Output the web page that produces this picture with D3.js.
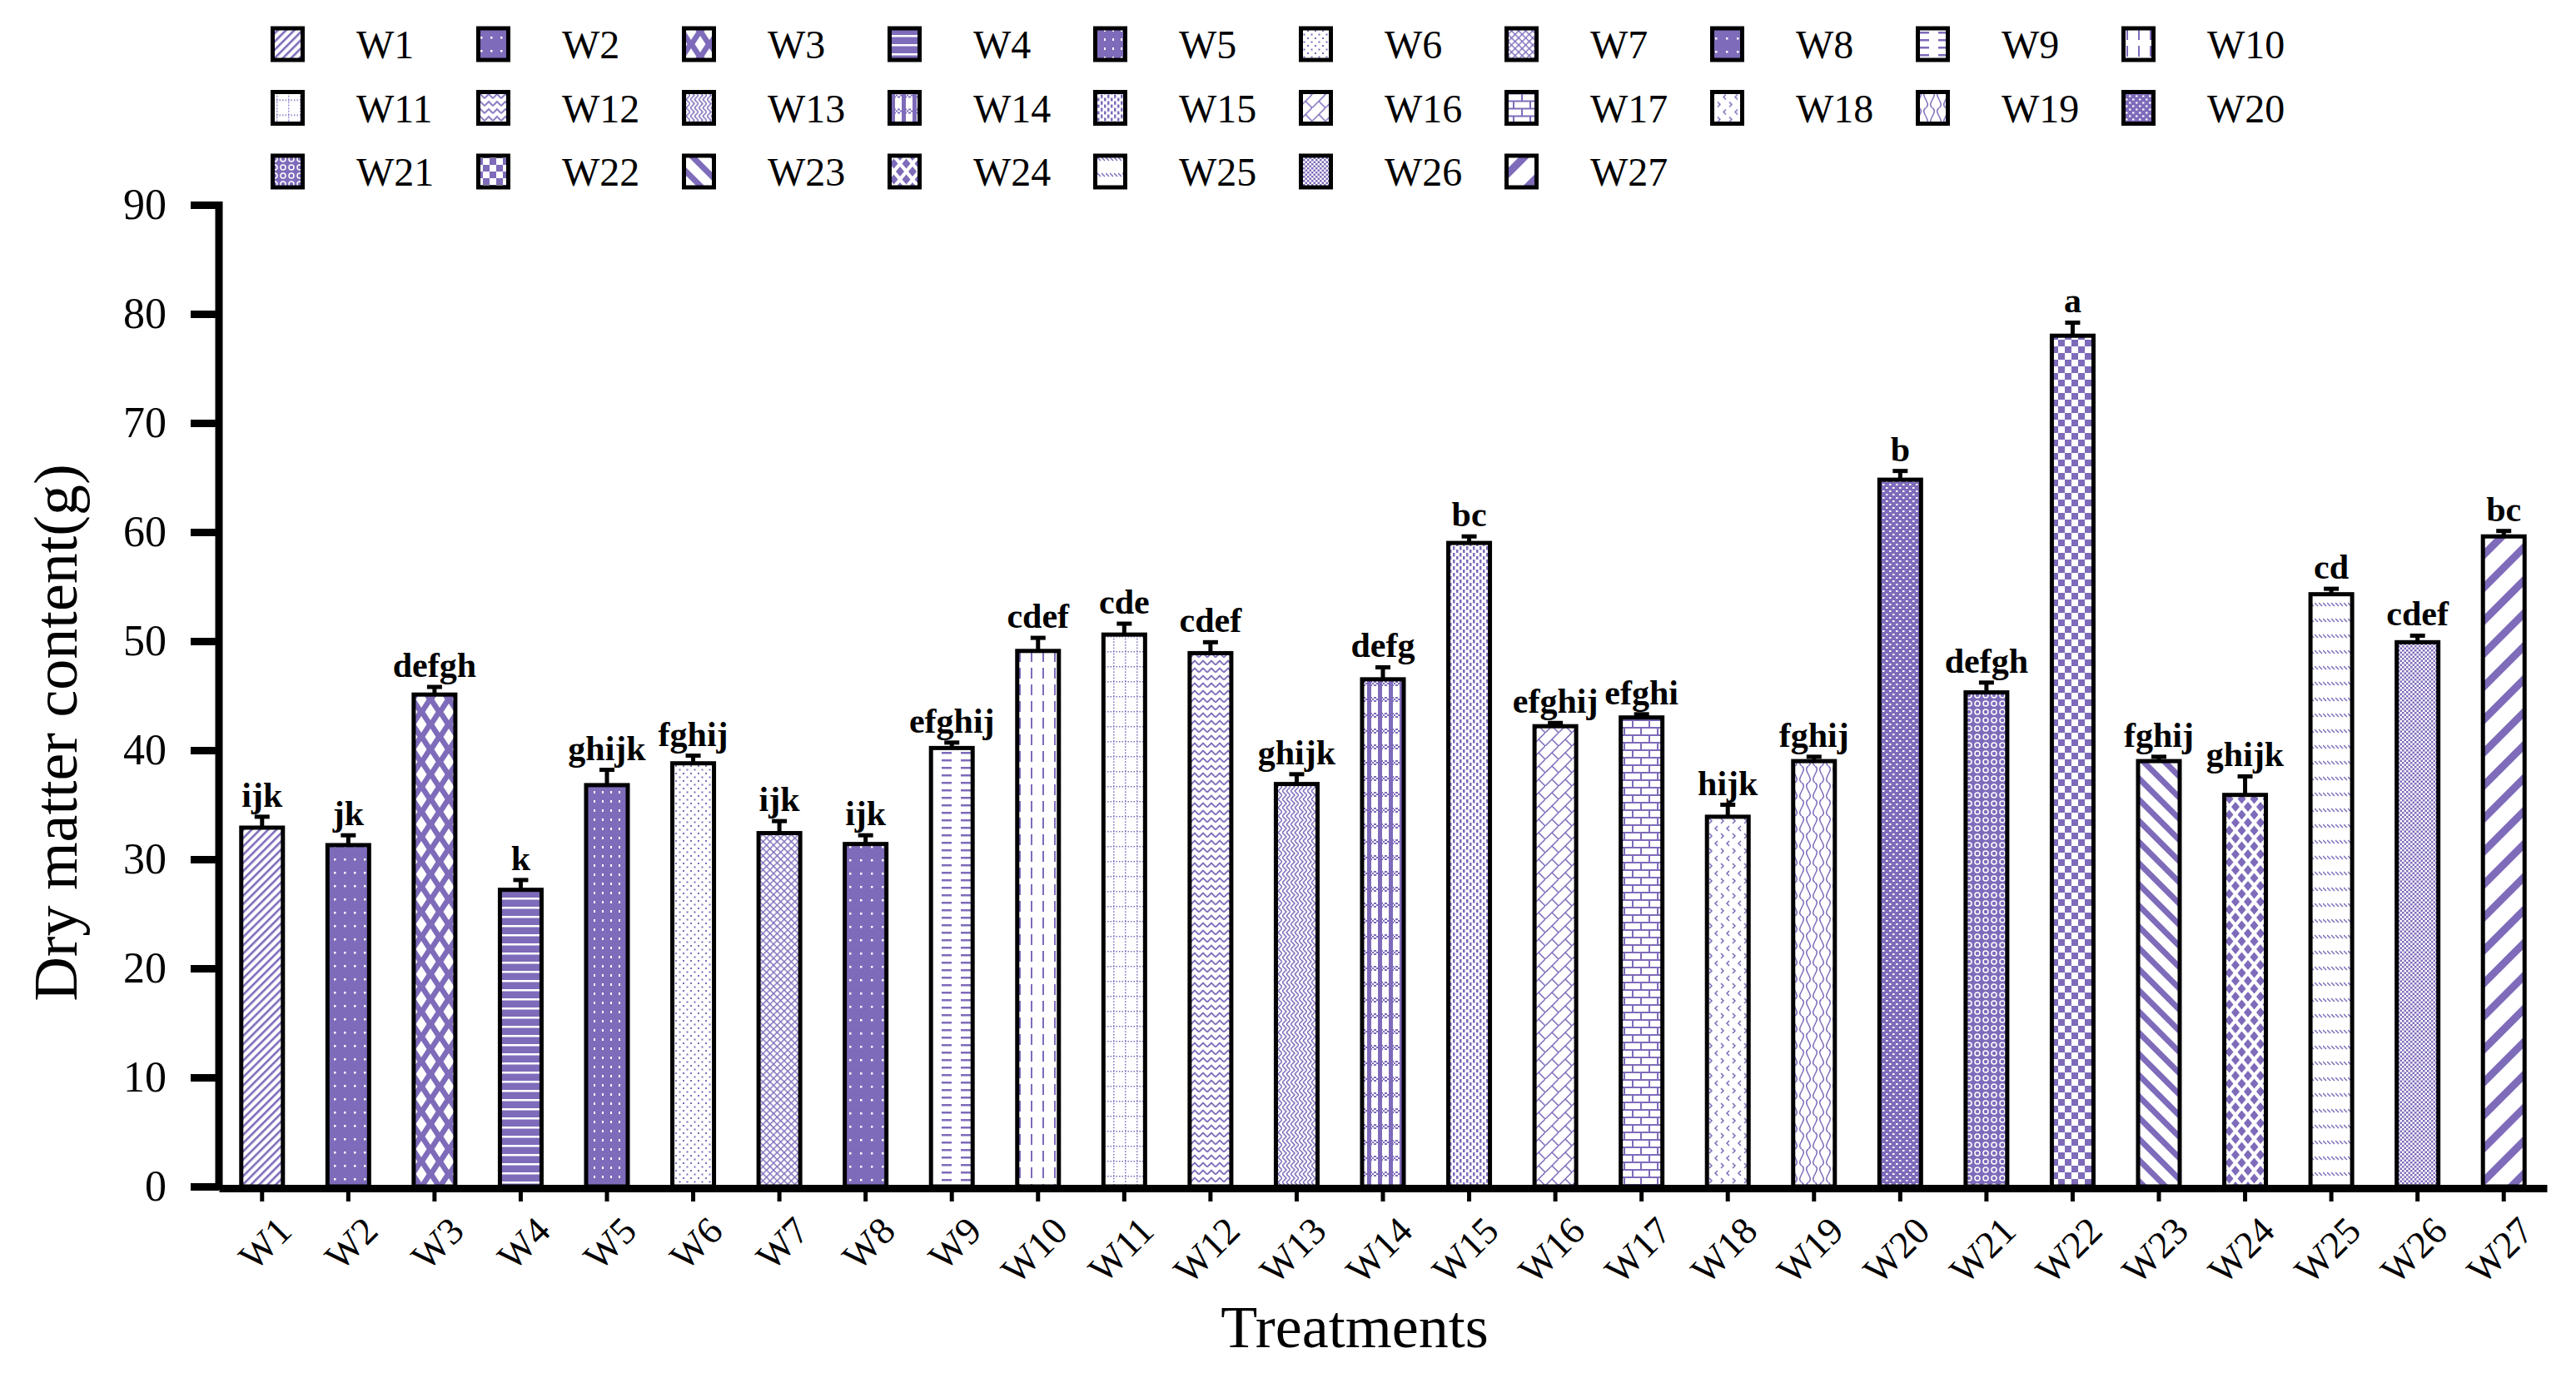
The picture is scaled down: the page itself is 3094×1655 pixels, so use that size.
<!DOCTYPE html>
<html lang="en">
  <head>
    <meta charset="utf-8" />
    <title>Dry matter content</title>
    <script src="https://cdn.jsdelivr.net/npm/d3@7"></script>
    <style>
      body { margin: 0; background: #fff; }
      svg { display: block; font-family: "Liberation Serif", "Times New Roman", serif; }
    </style>
  </head>
  <body>
    <div id="chart"></div>
    <script>
      // data
      const treatments = ["W1","W2","W3","W4","W5","W6","W7","W8","W9","W10","W11","W12","W13","W14",
        "W15","W16","W17","W18","W19","W20","W21","W22","W23","W24","W25","W26","W27"];
      const means = [32.9, 31.3, 45.1, 27.2, 36.8, 38.8, 32.4, 31.4, 40.2, 49.1, 50.6, 48.9, 36.9, 46.5,
        59.0, 42.2, 43.0, 33.9, 39.0, 64.8, 45.3, 78.0, 39.0, 35.9, 54.3, 49.9, 59.6];
      const errors = [1.0, 0.9, 0.7, 0.9, 1.4, 0.7, 1.1, 0.8, 0.5, 1.2, 1.0, 1.0, 0.9, 1.1,
        0.6, 0.3, 0.3, 1.1, 0.4, 0.8, 0.9, 1.2, 0.4, 1.7, 0.5, 0.6, 0.5];
      const letters = ["ijk","jk","defgh","k","ghijk","fghij","ijk","ijk","efghij","cdef","cde","cdef","ghijk","defg",
        "bc","efghij","efghi","hijk","fghij","b","defgh","a","fghij","ghijk","cd","cdef","bc"];
      const yTicks = [0, 10, 20, 30, 40, 50, 60, 70, 80, 90];

      const W = 3094, H = 1655;
      const P = "#7e6bba";
      const FONT = "'Liberation Serif', 'Times New Roman', serif";
      const svg = d3.select("#chart").append("svg").attr("width", W).attr("height", H);
      const defs = svg.append("defs");

      // ---- fill patterns, one per treatment ----
      function tile(id, w, h, bg, rot) {
        const p = defs.append("pattern").attr("id", id)
          .attr("patternUnits", "userSpaceOnUse").attr("width", w).attr("height", h);
        if (rot) p.attr("patternTransform", `rotate(${rot})`);
        p.append("rect").attr("width", w).attr("height", h).attr("fill", bg);
        return p;
      }
      function box(p, x, y, w, h, c) {
        p.append("rect").attr("x", x).attr("y", y).attr("width", w).attr("height", h).attr("fill", c);
      }
      function line(p, d, c, sw) {
        p.append("path").attr("d", d).attr("fill", "none").attr("stroke", c).attr("stroke-width", sw);
      }
      function diamonds(p, pts, c) {
        p.append("path").attr("fill", c).attr("d", pts.map(([cx, cy, rx, ry]) =>
          `M${cx},${cy - ry}L${cx + rx},${cy}L${cx},${cy + ry}L${cx - rx},${cy}Z`).join(""));
      }
      let p;
      p = tile("p1", 7, 10, "#fff", 45); box(p, 0, 0, 2.6, 10, P);
      p = tile("p2", 12, 16, P); box(p, 5, 7, 2.5, 2.5, "#fff");
      p = tile("p3", 22, 30, P);
      diamonds(p, [[11, 15, 6.5, 10], [0, 0, 6.5, 10], [22, 0, 6.5, 10], [0, 30, 6.5, 10], [22, 30, 6.5, 10]], "#fff");
      p = tile("p4", 10, 11, P); box(p, 0, 0, 10, 2.5, "#fff");
      p = tile("p5", 10, 11, P); box(p, 3, 4, 2, 3, "#fff");
      p = tile("p6", 9, 9, "#fff"); box(p, 1, 1, 2, 2, P); box(p, 5.5, 5.5, 2, 2, P);
      p = tile("p7", 6, 6, "#fff", 45); box(p, 0, 0, 1.4, 6, P); box(p, 0, 0, 6, 1.4, P);
      p = tile("p8", 13, 16, P); box(p, 6, 8, 2.5, 2.5, "#fff");
      p = tile("p9", 23, 9, "#fff"); box(p, 4, 3, 12, 2.5, P);
      p = tile("p10", 14, 20, "#fff"); box(p, 6, 2, 2, 13, P);
      p = tile("p11", 14, 18, "#fff");
      for (let i = 0; i < 4; i++) box(p, i * 3.5, 8, 1.5, 1.5, P);
      for (let i = 0; i < 5; i++) box(p, 7, i * 3.6, 1.5, 1.5, P);
      p = tile("p12", 10, 9, "#fff"); line(p, "M0,6.5L5,1.5L10,6.5", P, 1.8);
      p = tile("p13", 10, 10, "#fff"); line(p, "M0,0L5,5L0,10M5,0L10,5L5,10", P, 1.5);
      p = tile("p14", 13, 19, "#fff"); box(p, 4, 0, 5, 19, P);
      for (let r = 0; r < 3; r++) for (let c = 0; c < 7; c++)
        if ((r + c) % 2 === 0) box(p, c * 2, 1 + r * 2, 2, 2, P);
      p = tile("p15", 8, 8, "#fff"); box(p, 1, 0, 2.5, 4.5, P); box(p, 5, 4, 2.5, 4.5, P);
      p = tile("p16", 16, 16, "#fff"); line(p, "M0,16L16,0M8,8L16,16", P, 1.5);
      p = tile("p17", 20, 18, "#fff"); line(p, "M0,1H20M0,10H20M1,1V10M11,10V19", P, 2);
      p = tile("p18", 14, 18, "#fff"); line(p, "M5,2L2,5L5,8M9,11L12,14L9,17", P, 1.5);
      p = tile("p19", 16, 20, "#fff"); line(p, "M4,0C12,5 -4,15 4,20M12,0C4,5 20,15 12,20", P, 1.5);
      p = tile("p20", 8, 8, P); box(p, 1, 1, 2.5, 2, "#fff"); box(p, 5, 5, 2.5, 2, "#fff");
      p = tile("p21", 10, 10, P);
      p.append("circle").attr("cx", 5).attr("cy", 5).attr("r", 3).attr("fill", "none")
        .attr("stroke", "#fff").attr("stroke-width", 1.5);
      p = tile("p22", 16, 16, "#fff"); box(p, 0, 0, 8, 8, P); box(p, 8, 8, 8, 8, P);
      p = tile("p23", 18, 18, "#fff", -45); box(p, 0, 0, 7, 18, P);
      p = tile("p24", 15, 19, "#fff");
      diamonds(p, [[7.5, 9.5, 5, 6], [0, 0, 5, 6], [15, 0, 5, 6], [0, 19, 5, 6], [15, 19, 5, 6]], P);
      p = tile("p25", 5, 19, "#fff"); line(p, "M0,2L4,6", P, 1.5);
      p = tile("p26", 5, 5, "#fff"); box(p, 0, 0, 2.5, 2.5, P); box(p, 2.5, 2.5, 2.5, 2.5, P);
      p = tile("p27", 28, 28, "#fff", 45); box(p, 0, 0, 9, 28, P);

      const fillOf = (i) => `url(#p${i + 1})`;

      // ---- scales ----
      const x = d3.scaleBand().domain(treatments).range([263, 3059])
        .paddingInner(0.517).paddingOuter(0.2585);
      const y = d3.scaleLinear().domain([0, 90]).range([1425, 246]);

      // ---- bars ----
      svg.append("g").selectAll("rect").data(means).enter().append("rect")
        .attr("x", (d, i) => x(treatments[i]))
        .attr("y", (d) => y(d))
        .attr("width", x.bandwidth())
        .attr("height", (d) => y(0) - y(d))
        .attr("fill", (d, i) => fillOf(i))
        .attr("stroke", "#000").attr("stroke-width", 5);

      // error bars (upper only)
      const eb = svg.append("g").attr("stroke", "#000").attr("stroke-width", 5);
      means.forEach((m, i) => {
        const cx = x(treatments[i]) + x.bandwidth() / 2;
        eb.append("line").attr("x1", cx).attr("x2", cx).attr("y1", y(m)).attr("y2", y(m + errors[i]));
        eb.append("line").attr("x1", cx - 9).attr("x2", cx + 9).attr("y1", y(m + errors[i])).attr("y2", y(m + errors[i]));
      });

      // significance letters
      svg.append("g").selectAll("text").data(letters).enter().append("text")
        .attr("x", (d, i) => x(treatments[i]) + x.bandwidth() / 2)
        .attr("y", (d, i) => y(means[i] + errors[i]) - 12)
        .attr("text-anchor", "middle")
        .attr("font-weight", "bold").attr("font-size", 42)
        .text((d) => d);

      // ---- axes ----
      const yAxis = svg.append("g").attr("transform", "translate(263,0)")
        .call(d3.axisLeft(y).tickValues(yTicks).tickSize(34).tickSizeOuter(0).tickPadding(29))
        .attr("font-family", FONT).attr("font-size", 52);
      yAxis.select(".domain").attr("stroke-width", 9).attr("d", `M0,${y(90) - 4}V${y(0) + 4}`);
      yAxis.selectAll(".tick line").attr("stroke-width", 9);
      yAxis.selectAll(".tick text").attr("fill", "#000");

      const xAxis = svg.append("g").attr("transform", "translate(0,1427)")
        .call(d3.axisBottom(x).tickSize(16).tickSizeOuter(0))
        .attr("font-family", FONT).attr("font-size", 46);
      xAxis.select(".domain").attr("stroke-width", 9);
      xAxis.selectAll(".tick line").attr("stroke-width", 5);
      xAxis.selectAll(".tick text")
        .attr("fill", "#000")
        .attr("x", 0).attr("y", 0).attr("dy", 0)
        .attr("text-anchor", "end")
        .attr("transform", "translate(38,54) rotate(-45)");

      // axis titles
      svg.append("text").attr("transform", "translate(92,880) rotate(-90)")
        .attr("text-anchor", "middle").attr("font-size", 74).text("Dry matter content(g)");
      svg.append("text").attr("x", 1627).attr("y", 1618)
        .attr("text-anchor", "middle").attr("font-size", 72).text("Treatments");

      // ---- legend ----
      const legend = svg.append("g").selectAll("g").data(treatments).enter().append("g")
        .attr("transform", (d, i) => `translate(${325 + (i % 10) * 247},${53 + Math.floor(i / 10) * 76.5})`);
      legend.append("rect").attr("x", 2.5).attr("y", -19).attr("width", 36).attr("height", 38)
        .attr("fill", (d, i) => fillOf(i)).attr("stroke", "#000").attr("stroke-width", 5);
      legend.append("text").attr("x", 103).attr("y", 17).attr("font-size", 48).text((d) => d);
    </script>
  </body>
</html>
